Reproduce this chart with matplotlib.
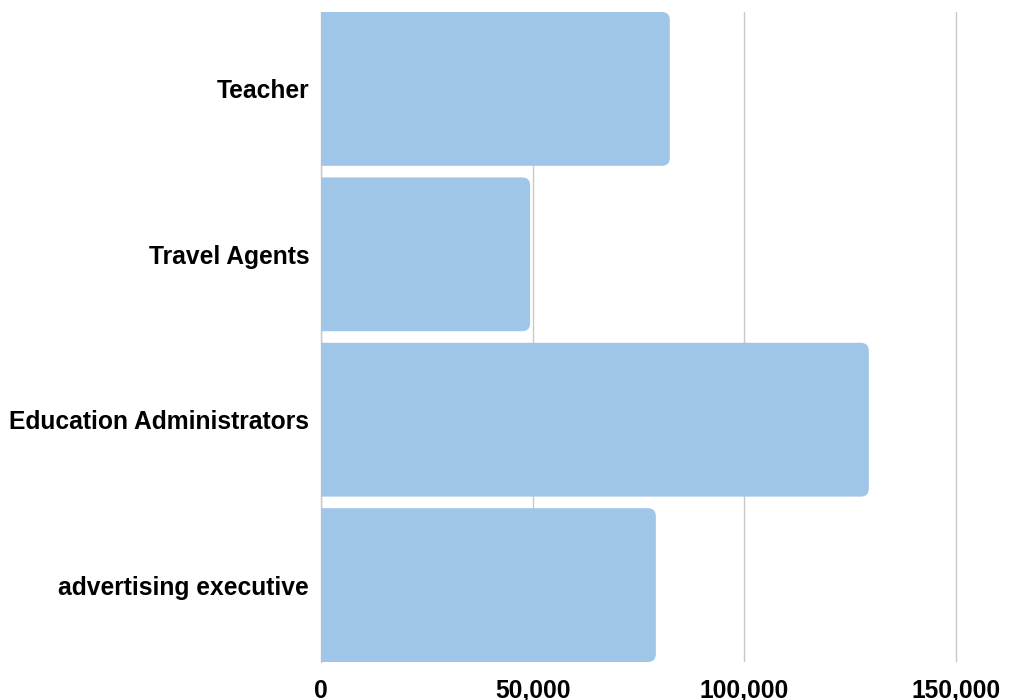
import matplotlib
matplotlib.use("Agg")
import matplotlib.pyplot as plt
from matplotlib.patches import FancyBboxPatch
from matplotlib.ticker import FuncFormatter

categories = ["Teacher", "Travel Agents", "Education Administrators", "advertising executive"]
values = [82400, 49400, 129400, 79100]
ticks = [0, 50000, 100000, 150000]

bar_color = "#9fc5e8"
bar_h = 0.93

plt.rcParams["font.family"] = ["Liberation Sans", "DejaVu Sans"]

fig = plt.figure(figsize=(10.15, 7), dpi=100)
ax = fig.add_axes([321 / 1015, 1 - 662 / 700, (960 - 321) / 1015, 650 / 700])

px_x = 150000 / (956 - 321)
ax.set_xlim(0, 150000 + 4 * px_x)
ax.set_ylim(len(categories) - 1 + bar_h / 2, -bar_h / 2)

# pixel -> data conversions for the corner radius
px_y = (len(categories) - 1 + bar_h) / 650
r_px = 8
rx = r_px * px_x
aspect = (r_px * px_y) / rx

for i, v in enumerate(values):
    patch = FancyBboxPatch((-rx * 2, i - bar_h / 2), v + rx * 2, bar_h,
                           boxstyle=f"round,pad=0,rounding_size={rx}",
                           mutation_aspect=aspect,
                           facecolor=bar_color, edgecolor="none", zorder=3)
    ax.add_patch(patch)

ax.set_yticks(range(len(categories)))
ax.set_yticklabels(categories)
ax.set_xticks(ticks)
ax.xaxis.set_major_formatter(FuncFormatter(lambda x, p: f"{int(x):,}"))

ax.grid(axis="x", color="#c8c8c8", linewidth=1, zorder=0)
ax.tick_params(axis="both", length=0, labelsize=17.7)
ax.tick_params(axis="y", pad=8.5)
ax.tick_params(axis="x", pad=12)
for lbl in ax.get_xticklabels() + ax.get_yticklabels():
    lbl.set_fontweight("bold")

for s in ["top", "right", "bottom"]:
    ax.spines[s].set_visible(False)
ax.spines["left"].set_color("#c8c8c8")
ax.spines["left"].set_linewidth(1)

fig.savefig("out.png", dpi=100)
